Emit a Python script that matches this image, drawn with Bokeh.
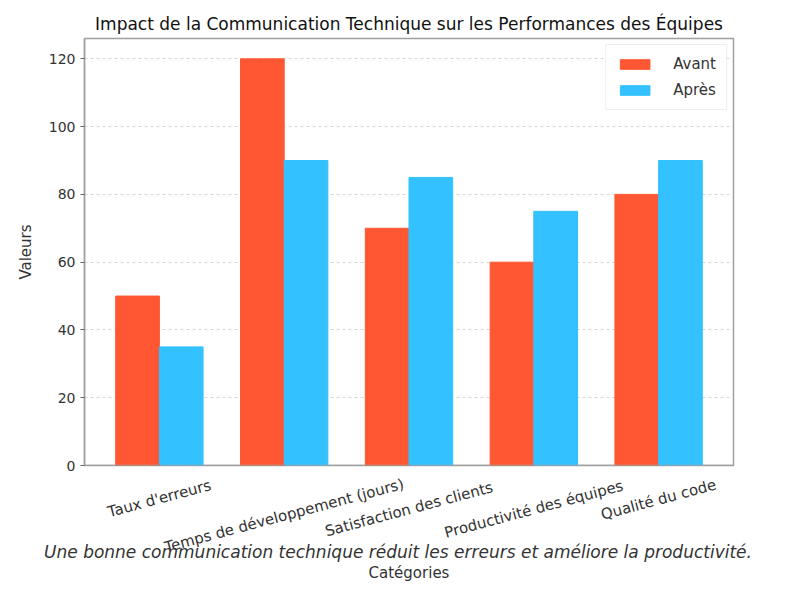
import math
from bokeh.plotting import figure
from bokeh.layouts import column
from bokeh.models import ColumnDataSource, Range1d, SingleIntervalTicker, FixedTicker
from bokeh.transform import dodge
from bokeh.embed import file_html
from bokeh.resources import INLINE

categories = ["Taux d'erreurs", "Temps de développement (jours)", "Satisfaction des clients",
              "Productivité des équipes", "Qualité du code"]
avant = [50, 120, 70, 60, 80]
apres = [35, 90, 85, 75, 90]

caption = "Une bonne communication technique réduit les erreurs et améliore la productivité."
x_label = "Catégories"
y_label = "Valeurs"
title = "Impact de la Communication Technique sur les Performances des Équipes"

FONT = "DejaVu Sans"
TXT = "#333333"
GREY = "#a0a0a0"

# ---- layout (pixels)
W, H = 769, 581
LEFT, RIGHT, TOP = 84, 36, 38
FRAME_BOTTOM = 465
H1 = FRAME_BOTTOM + 10         # main chart height
H2 = H - H1                    # strip below holding the category labels and captions
X0, X1 = -0.6, len(categories) - 0.4
ppx = (W - LEFT - RIGHT) / (X1 - X0)

src = ColumnDataSource(dict(x=list(range(len(categories))), avant=avant, apres=apres))

p = figure(width=W, height=H1, output_backend="svg", toolbar_location=None,
           x_range=Range1d(X0, X1), y_range=Range1d(0, 126),
           min_border_left=LEFT, min_border_right=RIGHT, min_border_top=TOP,
           min_border_bottom=H1 - FRAME_BOTTOM, title=title)
p.frame_align = False

p.vbar(x=dodge("x", -0.175), top="avant", width=0.35, source=src, color="#FF5733", legend_label="Avant")
p.vbar(x=dodge("x", 0.175), top="apres", width=0.35, source=src, color="#33C1FF", legend_label="Après")

p.title.text_font = FONT
p.title.text_font_size = "17px"
p.title.text_font_style = "normal"
p.title.text_color = "#111111"
p.title.align = "center"

p.outline_line_color = GREY
p.outline_line_width = 1.5
p.background_fill_color = "white"
p.border_fill_color = "white"

# y axis
p.yaxis.ticker = SingleIntervalTicker(interval=20, num_minor_ticks=0)
p.yaxis.axis_label = y_label
p.yaxis.axis_label_text_font = FONT
p.yaxis.axis_label_text_font_size = "15px"
p.yaxis.axis_label_text_font_style = "normal"
p.yaxis.axis_label_text_color = TXT
p.yaxis.axis_label_standoff = 11
p.yaxis.major_label_standoff = 5
p.yaxis.major_label_text_font = FONT
p.yaxis.major_label_text_font_size = "14px"
p.yaxis.major_label_text_color = TXT

# x axis: line + ticks at value 0; its labels are drawn in the strip below
p.xaxis.fixed_location = 0
p.xaxis.ticker = FixedTicker(ticks=list(range(len(categories))))
p.xaxis.major_label_text_color = None

for ax in (p.xaxis, p.yaxis):
    ax.axis_line_color = GREY
    ax.axis_line_width = 1.5
    ax.major_tick_line_color = "#666666"
    ax.major_tick_in = 0
    ax.major_tick_out = 4
    ax.minor_tick_line_color = None

p.xgrid.grid_line_color = None
p.ygrid.grid_line_color = "#cccccc"
p.ygrid.grid_line_dash = "3 3"
p.ygrid.grid_line_alpha = 0.8

lg = p.legend[0]
lg.location = "top_right"
lg.margin = 6
lg.padding = 10
lg.spacing = 8
lg.glyph_width = 37
lg.glyph_height = 12
lg.label_standoff = 20
lg.label_text_font = FONT
lg.label_text_font_size = "15px"
lg.label_text_color = TXT
lg.border_line_color = "#dddddd"
lg.border_line_width = 1
lg.background_fill_alpha = 0.9

# ---- strip below: same horizontal scale as the chart, vertical unit = 1 px downward
q = figure(width=W, height=H2, output_backend="svg", toolbar_location=None,
           x_range=Range1d(X0 - LEFT / ppx, X0 + (W - LEFT) / ppx), y_range=Range1d(-H2, 0),
           x_axis_location=None, y_axis_location=None,
           min_border_left=0, min_border_right=0, min_border_top=0, min_border_bottom=0)
q.frame_align = False
q.grid.visible = False
q.outline_line_color = None
q.background_fill_color = "white"
q.border_fill_color = "white"

ang = math.radians(15)
fs = 15
lab_y = []
for c in categories:
    w = len(c) * 8.2
    bh = w * math.sin(ang) + fs * math.cos(ang)
    lab_y.append(-(1 + bh / 2))
lab_src = ColumnDataSource(dict(x=list(range(len(categories))), y=lab_y, text=categories))
q.text(x="x", y="y", text="text", source=lab_src, angle=15, angle_units="deg",
       text_align="center", text_baseline="middle", text_font={"value": FONT},
       text_font_size={"value": "15px"}, text_color=TXT)

mid = (len(categories) - 1) / 2
q.text(x=[mid - 11 / ppx], y=[-76], text=[caption], text_align="center", text_baseline="middle",
       text_font={"value": FONT}, text_font_size={"value": "17px"}, text_font_style="italic",
       text_color=TXT)
q.text(x=[mid], y=[-97], text=[x_label], text_align="center", text_baseline="middle",
       text_font={"value": FONT}, text_font_size={"value": "15px"}, text_color=TXT)

layout = column(p, q, spacing=0)
open("out.html", "w").write(file_html(layout, INLINE))
